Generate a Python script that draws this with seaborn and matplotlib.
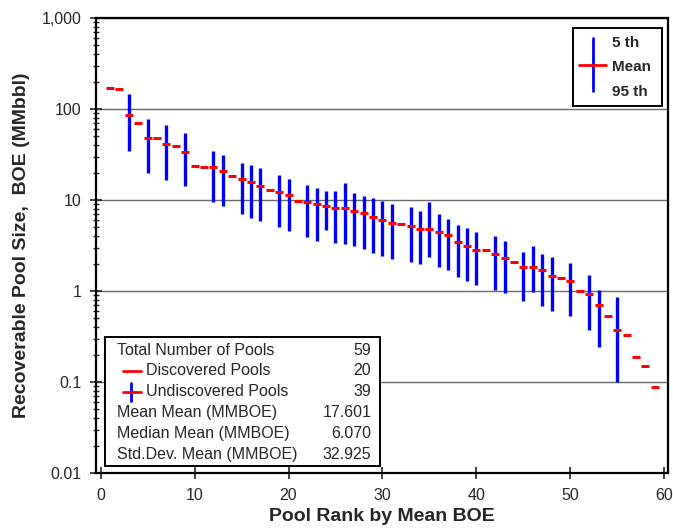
import matplotlib
matplotlib.use("Agg")
import matplotlib.pyplot as plt
import matplotlib.ticker as mticker
from matplotlib.lines import Line2D
from matplotlib.patches import Rectangle
import numpy as np
import pandas as pd
import seaborn as sns

# pool rank and mean size (MMBOE)
ranks = list(range(1, 60))
means = [170, 165, 86, 70, 48, 47.5, 41, 39.5, 34, 23.6,
         23.3, 22.9, 20.8, 18.2, 17.1, 15.8, 14.4, 13.0, 12.2, 11.3,
         9.8, 9.5, 8.96, 8.6, 8.1, 8.1, 7.57, 7.14, 6.55, 6.07,
         5.59, 5.41, 5.18, 4.84, 4.76, 4.45, 4.12, 3.43, 3.12, 2.82,
         2.84, 2.55, 2.29, 2.08, 1.84, 1.84, 1.69, 1.46, 1.39, 1.30,
         1.00, 0.93, 0.70, 0.53, 0.37, 0.33, 0.19, 0.149, 0.089]

# undiscovered pools: rank, 5th fractile (high) and 95th fractile (low)
und_ranks = [3, 5, 7, 9, 12, 13, 15, 16, 17, 19, 20, 22, 23, 24, 25, 26, 27, 28, 29, 30,
             31, 33, 34, 35, 36, 37, 38, 39, 40, 42, 43, 45, 46, 47, 48, 50, 52, 53, 55]
f5 = [146, 77, 67, 54, 34.8, 31, 25.6, 24.2, 22.3, 19, 16.9, 14.5, 13.4, 12.6, 12.6, 15.4, 12.0, 11.1, 10.4, 9.8,
      8.96, 8.3, 7.5, 9.6, 6.96, 6.2, 5.27, 4.89, 4.42, 4.02, 3.54, 2.7, 3.15, 2.57, 2.35, 2.05, 1.49, 1.03, 0.85]
f95 = [34.8, 20, 16.6, 14.4, 9.5, 8.5, 7.0, 6.4, 5.9, 5.05, 4.56, 3.89, 3.57, 4.64, 3.34, 3.26, 3.1, 2.87, 2.64, 2.43,
       2.26, 2.08, 1.98, 2.38, 1.84, 1.69, 1.41, 1.29, 1.16, 1.03, 0.94, 0.77, 0.97, 0.68, 0.60, 0.53, 0.37, 0.24, 0.10]

stats_labels = ["Total Number of Pools", "Discovered Pools", "Undiscovered Pools",
                "Mean Mean (MMBOE)", "Median Mean (MMBOE)", "Std.Dev. Mean (MMBOE)"]
stats_values = ["59", "20", "39", "17.601", "6.070", "32.925"]

y_ticks = [0.01, 0.1, 1, 10, 100, 1000]
y_tick_labels = ["0.01", "0.1", "1", "10", "100", "1,000"]


def main():
    sns.set_style("ticks")
    plt.rcParams["font.family"] = ["Liberation Sans", "DejaVu Sans"]

    df = pd.DataFrame({"rank": ranks, "mean": means})
    und = pd.DataFrame({"rank": und_ranks, "f5": f5, "f95": f95})

    fig = plt.figure(figsize=(6.73, 5.29), dpi=100)
    ax = fig.add_axes([0.1426, 0.1059, 0.8500, 0.8601])

    ax.vlines(und["rank"], und["f95"], und["f5"], color="#0000ff", lw=2.4, zorder=3)
    sns.scatterplot(data=df, x="rank", y="mean", marker="_", color="#ff0000",
                    s=26, linewidth=2.2, ax=ax, zorder=4)

    ax.set_yscale("log")
    ax.set_ylim(0.01, 1000)
    ax.set_xlim(-0.5, 60.4)
    ax.set_yticks(y_ticks)
    ax.yaxis.set_major_formatter(mticker.FixedFormatter(y_tick_labels))
    ax.yaxis.set_minor_locator(mticker.LogLocator(base=10, subs=np.arange(2, 10)))
    ax.yaxis.set_minor_formatter(mticker.NullFormatter())
    ax.set_xticks(range(0, 61, 10))

    ax.yaxis.grid(True, which="major", color="#6a6a6a", lw=1.0, zorder=1)
    ax.set_axisbelow(True)
    for s in ax.spines.values():
        s.set_linewidth(1.6)
        s.set_color("black")

    ax.tick_params(axis="both", which="major", direction="inout", length=9, width=1.2,
                   labelsize=11.5, pad=6)
    ax.tick_params(axis="y", which="minor", direction="inout", length=5, width=1.0)

    ax.set_xlabel("Pool Rank by Mean BOE", fontsize=14, fontweight="bold", labelpad=4)
    ax.set_ylabel("Recoverable Pool Size,  BOE (MMbbl)", fontsize=14, fontweight="bold", labelpad=8)

    # legend box, top right
    ax.add_patch(Rectangle((0.834, 0.807), 0.156, 0.171, transform=ax.transAxes,
                           facecolor="white", edgecolor="black", lw=1.4, zorder=6))
    ax.add_line(Line2D([0.868, 0.868], [0.840, 0.955], transform=ax.transAxes,
                       color="#0000ff", lw=2.0, zorder=7))
    ax.add_line(Line2D([0.845, 0.891], [0.897, 0.897], transform=ax.transAxes,
                       color="#ff0000", lw=2.0, zorder=8))
    for yy, t in zip([0.946, 0.892, 0.838], ["5 th", "Mean", "95 th"]):
        ax.text(0.902, yy, t, transform=ax.transAxes, fontsize=11, fontweight="bold",
                va="center", ha="left", zorder=9)

    # statistics box, bottom left
    ax.add_patch(Rectangle((0.0157, 0.0154), 0.4808, 0.2836, transform=ax.transAxes,
                           facecolor="white", edgecolor="black", lw=1.4, zorder=6))
    y0 = 0.270
    dy = 0.0458
    for i, (lab, val) in enumerate(zip(stats_labels, stats_values)):
        yy = y0 - i * dy
        xx = 0.087 if i in (1, 2) else 0.036
        ax.text(xx, yy, lab, transform=ax.transAxes, fontsize=11.5, va="center", ha="left", zorder=9)
        ax.text(0.481, yy, val, transform=ax.transAxes, fontsize=11.5, va="center", ha="right", zorder=9)
    ax.add_line(Line2D([0.047, 0.078], [y0 - dy, y0 - dy], transform=ax.transAxes,
                       color="#ff0000", lw=2.0, zorder=8))
    ax.add_line(Line2D([0.062, 0.062], [y0 - 2 * dy - 0.02, y0 - 2 * dy + 0.02], transform=ax.transAxes,
                       color="#0000ff", lw=2.0, zorder=7))
    ax.add_line(Line2D([0.047, 0.078], [y0 - 2 * dy, y0 - 2 * dy], transform=ax.transAxes,
                       color="#ff0000", lw=2.0, zorder=8))

    fig.savefig("out.png", dpi=100)
    plt.close(fig)


if __name__ == "__main__":
    main()
